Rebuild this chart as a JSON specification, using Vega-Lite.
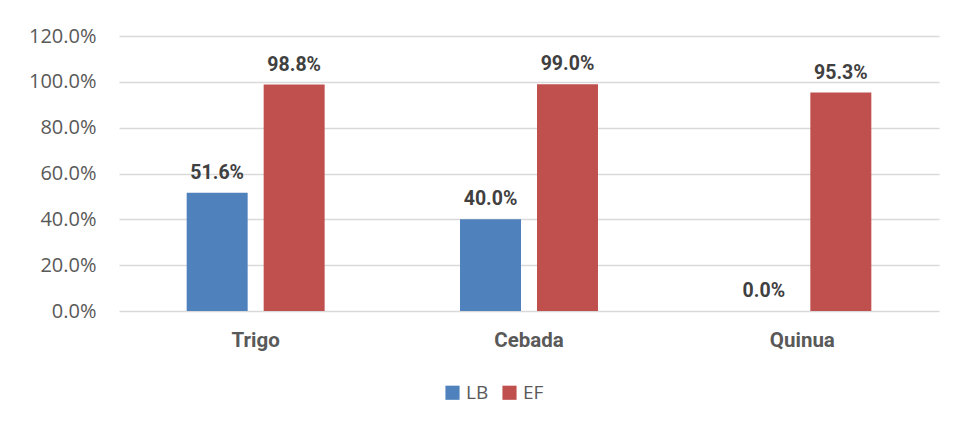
{
  "$schema": "https://vega.github.io/schema/vega-lite/v6.json",
  "width": 820,
  "height": 275,
  "autosize": {"type": "none"},
  "padding": {"left": 119, "top": 36, "right": 17, "bottom": 116},
  "background": "white",
  "config": {"view": {"stroke": null}},
  "data": {"values": [
    {"cat": "Trigo", "serie": "LB", "value": 0.516},
    {"cat": "Trigo", "serie": "EF", "value": 0.988},
    {"cat": "Cebada", "serie": "LB", "value": 0.400},
    {"cat": "Cebada", "serie": "EF", "value": 0.990},
    {"cat": "Quinua", "serie": "LB", "value": 0.0},
    {"cat": "Quinua", "serie": "EF", "value": 0.953}
  ]},
  "encoding": {
    "x": {"field": "cat", "type": "nominal", "sort": ["Trigo", "Cebada", "Quinua"],
      "scale": {"paddingInner": 0, "paddingOuter": 0},
      "axis": {"title": null, "domain": false, "ticks": false, "labelAngle": 0,
        "labelFont": "Roboto", "labelFontWeight": "bold", "labelFontSize": 20.5,
        "labelColor": "#595959", "labelPadding": 19}},
    "xOffset": {"field": "serie", "type": "nominal", "sort": ["LB", "EF"],
      "scale": {"paddingInner": 0.208, "paddingOuter": 0.879}},
    "y": {"field": "value", "type": "quantitative",
      "scale": {"domain": [0, 1.2]},
      "axis": {"title": null, "format": ".1%", "values": [0, 0.2, 0.4, 0.6, 0.8, 1.0, 1.2],
        "domain": false, "ticks": false, "labelPadding": 23,
        "labelFont": "Open Sans", "labelFontSize": 20, "labelColor": "#595959",
        "gridColor": "#D9D9D9", "gridWidth": 1.5}}
  },
  "layer": [
    {"mark": {"type": "bar"},
     "encoding": {
       "color": {"field": "serie", "type": "nominal", "sort": ["LB", "EF"],
         "scale": {"domain": ["LB", "EF"], "range": ["#4F81BD", "#C0504D"]},
         "legend": {"title": null, "orient": "none", "direction": "horizontal",
           "legendX": 324, "legendY": 347, "symbolType": "square", "symbolSize": 200,
           "symbolStrokeWidth": 0, "labelFont": "Open Sans", "labelFontSize": 19,
           "labelColor": "#595959", "columnPadding": 11, "labelOffset": 4}}
     }},
    {"mark": {"type": "text", "baseline": "bottom", "dy": -10, "font": "Roboto",
       "fontWeight": "bold", "fontSize": 19.5, "color": "#404040"},
     "encoding": {"text": {"field": "value", "type": "quantitative", "format": ".1%"}}}
  ]
}
